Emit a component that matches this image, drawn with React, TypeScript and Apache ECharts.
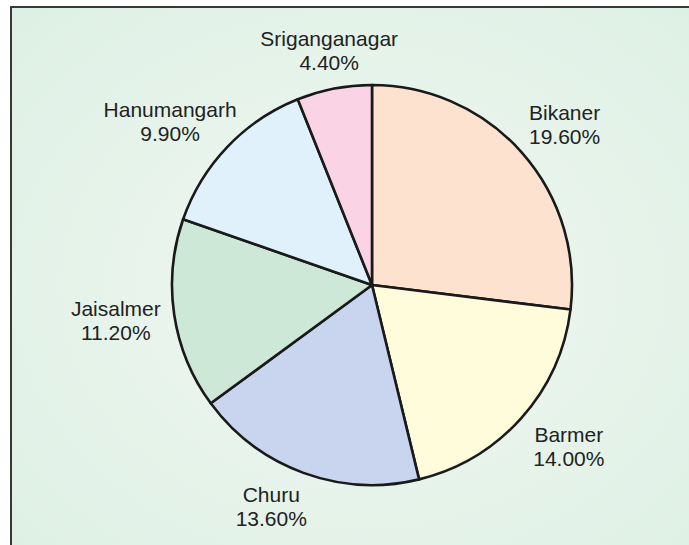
import React, { useEffect, useRef } from "react";
import * as echarts from "echarts";

const districts = ["Bikaner", "Barmer", "Churu", "Jaisalmer", "Hanumangarh", "Sriganganagar"];
const shares = [19.6, 14.0, 13.6, 11.2, 9.9, 4.4];
const sliceColors = ["#fde3cf", "#fffcdc", "#c9d5ef", "#cde8d6", "#e1f1fc", "#fad3e5"];
// small label nudges (px) relative to the library's placement
const labelNudgeX = [3, 8, -14, -6, -19, 5];
const labelNudgeY = [7, -7, -16, -2, 11, 14];

export default function App() {
  const ref = useRef<HTMLDivElement>(null);

  useEffect(() => {
    if (!ref.current) return;
    const chart = echarts.init(ref.current, undefined, { renderer: "svg" });
    const data = districts.map((name, i) => ({
      name,
      value: shares[i],
      itemStyle: { color: sliceColors[i] },
    }));
    chart.setOption({
      animation: false,
      backgroundColor: "#ffffff",
      graphic: [
        {
          type: "rect",
          z: -10,
          shape: { x: 11, y: 7, width: 700, height: 560 },
          style: {
            fill: {
              type: "radial",
              x: 0.5,
              y: 0.5,
              r: 0.75,
              colorStops: [
                { offset: 0, color: "#f1f8f2" },
                { offset: 1, color: "#dcefe3" },
              ],
            },
            stroke: "#383838",
            lineWidth: 2,
          },
        },
      ],
      series: [
        {
          type: "pie",
          center: [372, 285],
          radius: [0, 200],
          startAngle: 90,
          clockwise: true,
          silent: true,
          label: { show: false },
          labelLine: { show: false },
          itemStyle: { borderColor: "#1a1a1a", borderWidth: 2.6 },
          data,
        },
        {
          type: "pie",
          center: [372, 285],
          radius: [240, 260],
          startAngle: 90,
          clockwise: true,
          silent: true,
          itemStyle: { color: "transparent", borderWidth: 0 },
          labelLine: { show: false },
          label: {
            show: true,
            position: "inside",
            color: "#222222",
            fontSize: 21,
            lineHeight: 24,
            fontFamily: "'Liberation Sans', Arial, sans-serif",
            formatter: (p: any) => `${p.name}\n${Number(p.value).toFixed(2)}%`,
          },
          labelLayout: (params: any) => ({
            dx: labelNudgeX[params.dataIndex] || 0,
            dy: labelNudgeY[params.dataIndex] || 0,
          }),
          data: districts.map((name, i) => ({ name, value: shares[i] })),
        },
      ],
    });
    return () => chart.dispose();
  }, []);

  return (
    <div
      ref={ref}
      style={{ position: "absolute", left: 0, top: 0, width: 689, height: 545 }}
    />
  );
}
